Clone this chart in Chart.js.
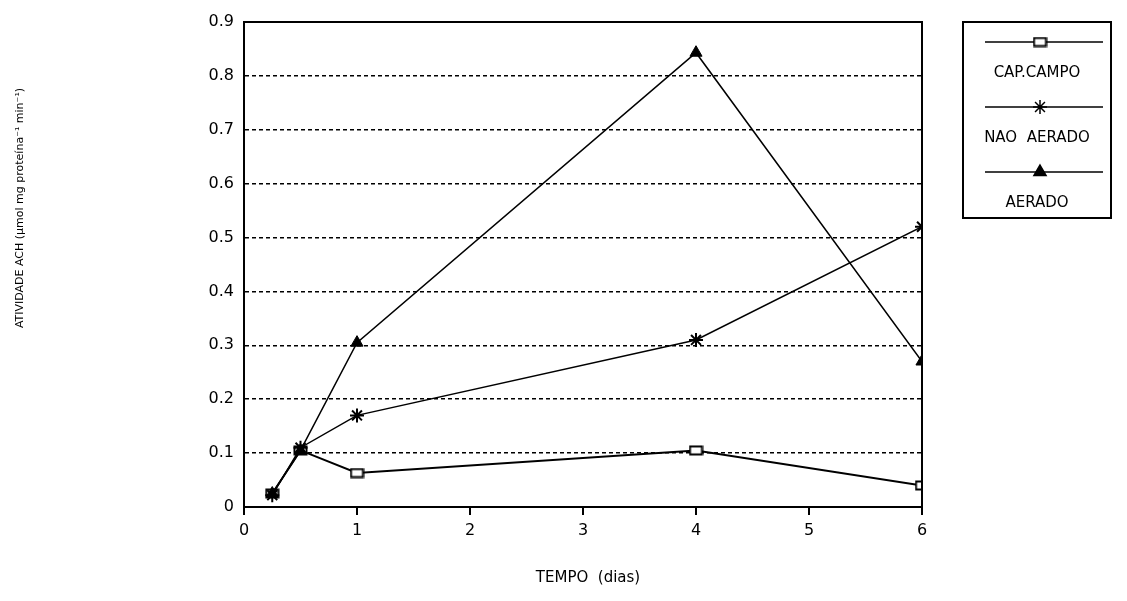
<!DOCTYPE html>
<html>
<head>
<meta charset="utf-8">
<script src="https://cdn.jsdelivr.net/npm/chart.js@4.4.1/dist/chart.umd.min.js"></script>
<style>
  html, body { margin: 0; padding: 0; background: #fff; }
  #wrap { width: 1127px; height: 601px; }
</style>
</head>
<body>
<div id="wrap"><canvas id="grafico" width="1127" height="601"></canvas></div>
<script>
const dias = [0.25, 0.5, 1, 4, 6];
const capCampo = [0.025, 0.105, 0.063, 0.105, 0.04];
const naoAerado = [0.022, 0.11, 0.17, 0.31, 0.52];
const aerado = [0.025, 0.105, 0.305, 0.843, 0.27];
const nomes = ["CAP.CAMPO", "NAO  AERADO", "AERADO"];
const ticksY = [0, 0.1, 0.2, 0.3, 0.4, 0.5, 0.6, 0.7, 0.8, 0.9];

const tituloY = "ATIVIDADE ACH (µmol mg proteína⁻¹ min⁻¹)";
const tituloX = "TEMPO  (dias)";
const fonte = "'DejaVu Sans', sans-serif";

// quadrado aberto (retangular) para CAP.CAMPO
const quadrado = document.createElement("canvas");
quadrado.width = 15;
quadrado.height = 11;
(() => {
  const c = quadrado.getContext("2d");
  c.fillStyle = "#fff";
  c.strokeStyle = "#000";
  c.lineWidth = 2;
  c.fillRect(1, 1, 13, 9);
  c.strokeRect(1.5, 1.5, 12, 8);
})();

const pontos = (ys) => dias.map((x, i) => ({ x: x, y: ys[i] }));

// moldura do gráfico (topo e lado direito)
const moldura = {
  id: "moldura",
  afterDatasetsDraw(chart) {
    const { ctx, chartArea: a } = chart;
    ctx.save();
    ctx.strokeStyle = "#000";
    ctx.lineWidth = 2;
    ctx.strokeRect(a.left, a.top, a.right - a.left, a.bottom - a.top);
    ctx.restore();
  },
};

// títulos dos eixos
const titulos = {
  id: "titulos",
  afterDraw(chart) {
    const { ctx } = chart;
    ctx.save();
    ctx.fillStyle = "#000";
    ctx.textAlign = "center";
    ctx.textBaseline = "middle";
    ctx.font = "15px " + fonte;
    ctx.fillText(tituloX, 588, 578);
    ctx.translate(20, 208);
    ctx.rotate(-Math.PI / 2);
    ctx.font = "11px " + fonte;
    ctx.fillText(tituloY, 0, 0);
    ctx.restore();
  },
};

// legenda em caixa: linha com marcador e nome embaixo
const legenda = {
  id: "legenda",
  afterDraw(chart) {
    const { ctx, chartArea: a } = chart;
    const x0 = a.right + 41;
    const y0 = a.top;
    const larg = 148;
    const alt = 196;
    ctx.save();
    ctx.strokeStyle = "#000";
    ctx.lineWidth = 2;
    ctx.strokeRect(x0, y0, larg, alt);
    const cx = x0 + larg / 2 + 3;
    chart.data.datasets.forEach((ds, i) => {
      const yl = y0 + 20 + i * 65;
      ctx.strokeStyle = "#000";
      ctx.lineWidth = 1.5;
      ctx.beginPath();
      ctx.moveTo(x0 + 22, yl);
      ctx.lineTo(x0 + larg - 8, yl);
      ctx.stroke();
      Chart.helpers.drawPoint(ctx, {
        pointStyle: ds.pointStyle,
        radius: ds.pointRadius,
        borderWidth: ds.pointBorderWidth,
        rotation: 0,
      }, cx, yl);
      ctx.fillStyle = "#000";
      ctx.font = "15px " + fonte;
      ctx.textAlign = "center";
      ctx.textBaseline = "middle";
      ctx.fillText(ds.label, cx - 3, yl + 31);
    });
    ctx.restore();
  },
};

new Chart(document.getElementById("grafico"), {
  type: "line",
  data: {
    datasets: [
      {
        label: nomes[0],
        data: pontos(capCampo),
        borderColor: "#000",
        borderWidth: 2,
        pointStyle: quadrado,
        pointRadius: 6,
        pointBorderWidth: 2,
        pointBackgroundColor: "#fff",
        pointBorderColor: "#000",
        order: 3,
      },
      {
        label: nomes[1],
        data: pontos(naoAerado),
        borderColor: "#000",
        borderWidth: 1.5,
        pointStyle: "star",
        pointRadius: 7,
        pointBorderWidth: 2,
        pointBackgroundColor: "#000",
        pointBorderColor: "#000",
        order: 2,
      },
      {
        label: nomes[2],
        data: pontos(aerado),
        borderColor: "#000",
        borderWidth: 1.5,
        pointStyle: "triangle",
        pointRadius: 7,
        pointBorderWidth: 1,
        pointBackgroundColor: "#000",
        pointBorderColor: "#000",
        order: 1,
      },
    ],
  },
  options: {
    responsive: false,
    animation: false,
    layout: { padding: { left: 0, right: 205, top: 22, bottom: 0 } },
    plugins: {
      legend: { display: false },
      tooltip: { enabled: false },
    },
    scales: {
      x: {
        type: "linear",
        min: 0,
        max: 6,
        ticks: {
          stepSize: 1,
          color: "#000",
          padding: 6,
          font: { family: fonte, size: 16 },
        },
        grid: {
          drawOnChartArea: false,
          drawTicks: true,
          tickLength: 8,
          color: "#000",
          lineWidth: 2,
        },
        border: { display: true, color: "#000", width: 2 },
        afterFit: (s) => { s.height = 94; },
      },
      y: {
        min: 0,
        max: 0.9,
        afterBuildTicks: (s) => { s.ticks = ticksY.map((v) => ({ value: v })); },
        ticks: {
          color: "#000",
          padding: 10,
          font: { family: fonte, size: 16 },
        },
        grid: {
          drawTicks: false,
          color: "#000",
          lineWidth: 1.5,
        },
        border: { display: true, color: "#000", width: 2, dash: [4, 3] },
        afterFit: (s) => { s.width = 244; },
      },
    },
  },
  plugins: [moldura, titulos, legenda],
});
</script>
</body>
</html>
